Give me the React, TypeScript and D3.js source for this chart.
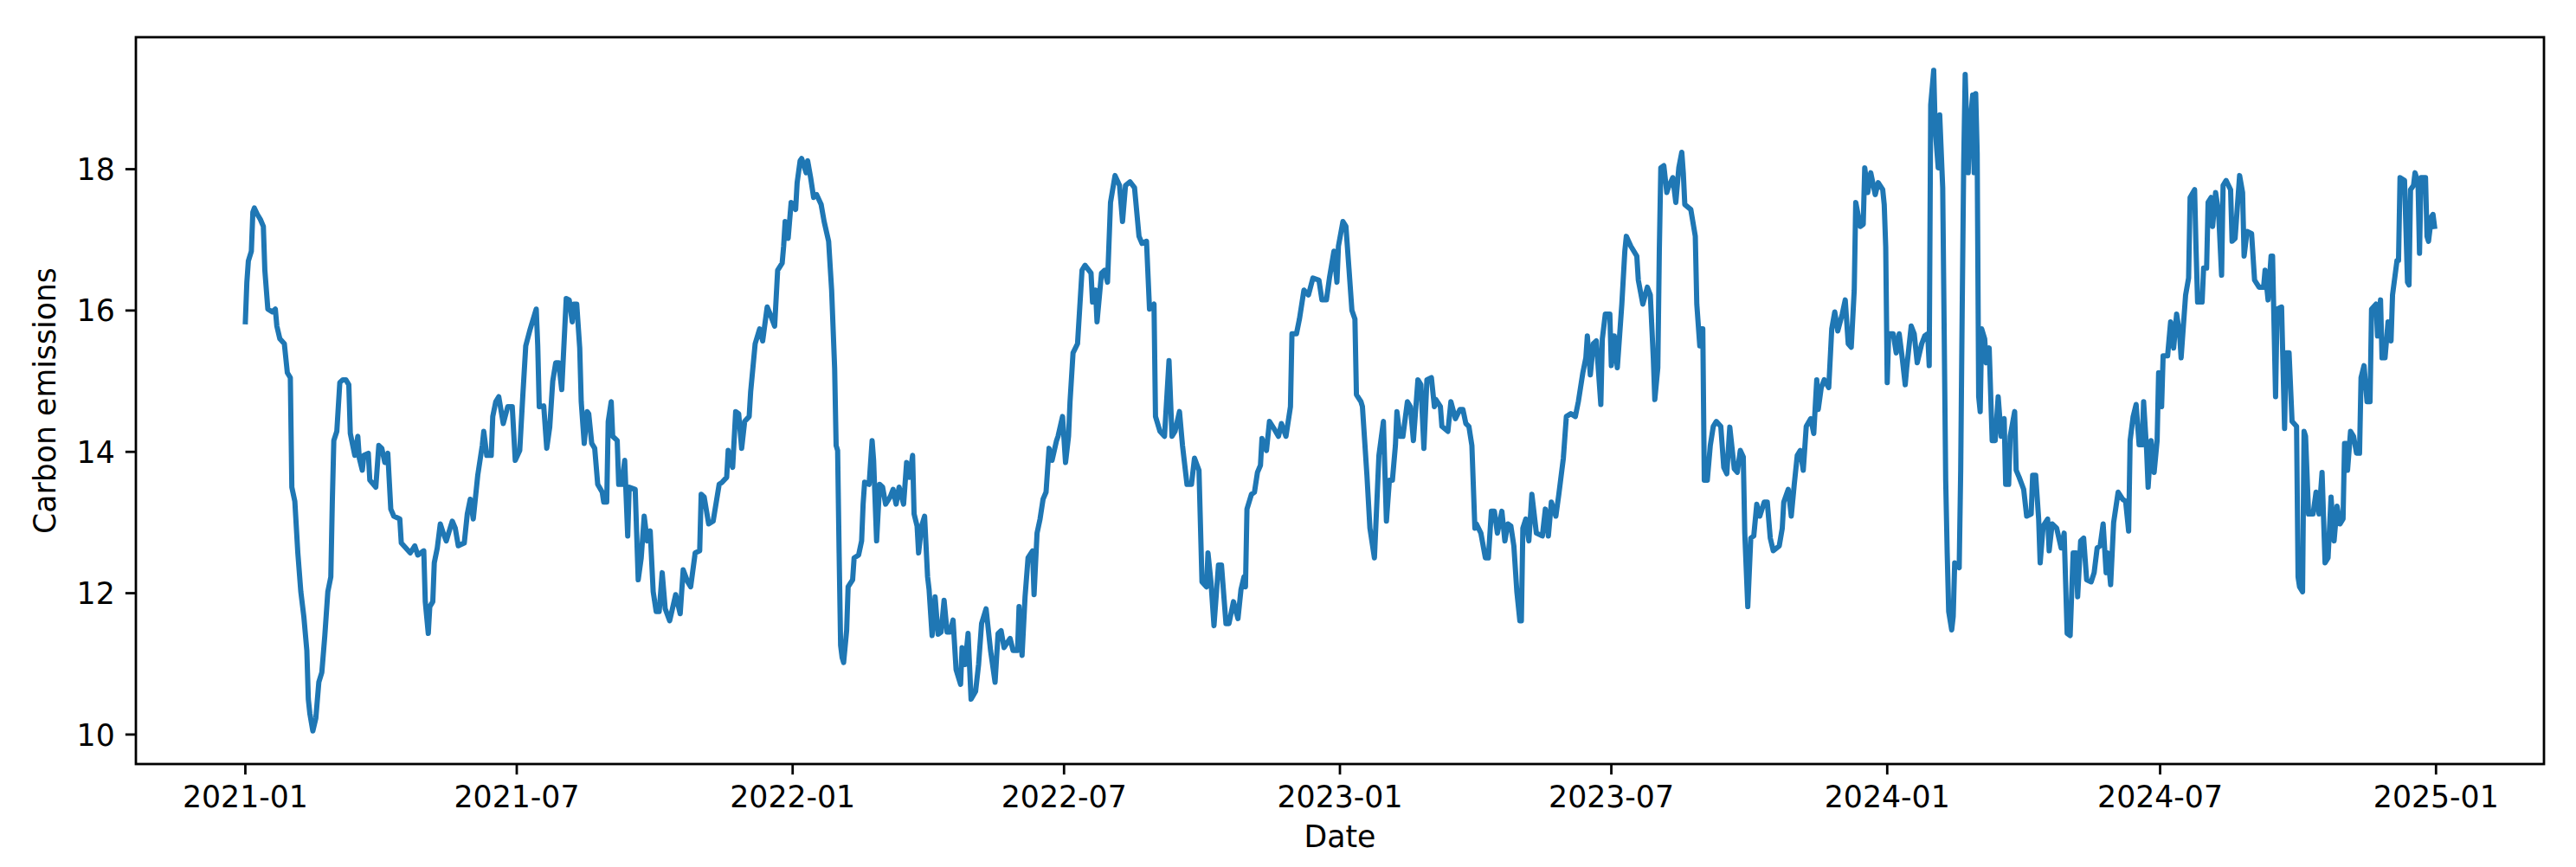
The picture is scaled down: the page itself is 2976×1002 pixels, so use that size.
import React from 'react';
import * as d3 from 'd3';

// day offsets from 2021-01-01, carbon emissions
const startDate = new Date(2021, 0, 1);

const emissions2021: [number, number][] = [
  [0, 15.84], [1, 16.4], [2, 16.7], [4, 16.84], [5, 17.39], [6, 17.45], [8, 17.36], [10, 17.29], [12, 17.19],
  [13, 16.57], [15, 16.02], [18, 15.98], [20, 16.02], [21, 15.78], [23, 15.6], [26, 15.53], [28, 15.12], [30, 15.05],
  [31, 13.5], [33, 13.3], [35, 12.57], [37, 12.02], [39, 11.67], [41, 11.19], [42, 10.5], [43, 10.3], [45, 10.05],
  [47, 10.23], [49, 10.74], [51, 10.88], [53, 11.4], [55, 12.02], [57, 12.23], [58, 13.3], [59, 14.16], [61, 14.29],
  [63, 14.98], [65, 15.02], [67, 15.02], [69, 14.95], [70, 14.26], [73, 13.95], [75, 14.22], [76, 13.91], [78, 13.74],
  [79, 13.95], [82, 13.98], [83, 13.6], [87, 13.5], [89, 14.09], [91, 14.05], [93, 13.85], [95, 13.98], [97, 13.19],
  [99, 13.09], [103, 13.05], [104, 12.71], [107, 12.64], [110, 12.57], [113, 12.67], [115, 12.54], [119, 12.6],
  [120, 11.88], [122, 11.43], [123, 11.81], [125, 11.88], [126, 12.43], [128, 12.64], [130, 12.98], [132, 12.85],
  [134, 12.74], [138, 13.02], [140, 12.92], [142, 12.67], [146, 12.71], [148, 13.12], [150, 13.33], [152, 13.05],
  [155, 13.67], [158, 14.09], [159, 14.29], [161, 13.95], [164, 13.95], [165, 14.5], [167, 14.71], [169, 14.78],
  [172, 14.4], [175, 14.64], [178, 14.64], [180, 13.88], [183, 14.02], [185, 14.78], [187, 15.5], [190, 15.74],
  [192, 15.88], [194, 16.02], [195, 15.5], [196, 14.64], [199, 14.65], [201, 14.05], [203, 14.35], [205, 15.0],
  [207, 15.26], [209, 15.26], [211, 14.88], [213, 15.74], [214, 16.17], [216, 16.15], [218, 15.84], [219, 16.09],
  [221, 16.09], [223, 15.47], [224, 14.71], [226, 14.12], [228, 14.57], [229, 14.54], [231, 14.12], [233, 14.05],
  [235, 13.54], [238, 13.43], [239, 13.29], [241, 13.29], [242, 14.43], [244, 14.71], [245, 14.22], [248, 14.16],
  [249, 13.54], [251, 13.54], [253, 13.88], [255, 12.81], [256, 13.5], [260, 13.47], [262, 12.19], [264, 12.5],
  [266, 13.09], [268, 12.74], [270, 12.88], [272, 12.02], [274, 11.74], [276, 11.74], [278, 12.29], [280, 11.78],
  [283, 11.61], [287, 11.98], [290, 11.71], [292, 12.33], [295, 12.16], [297, 12.09], [300, 12.57], [303, 12.6],
  [304, 13.4], [306, 13.36], [309, 12.98], [312, 13.02], [316, 13.54], [318, 13.57], [321, 13.64], [322, 14.02],
  [325, 13.78], [327, 14.57], [329, 14.54], [331, 14.05], [333, 14.43], [336, 14.5], [337, 14.85], [340, 15.53],
  [343, 15.74], [345, 15.57], [348, 16.05], [350, 15.95], [353, 15.78], [355, 16.57], [358, 16.67], [359, 16.91],
  [360, 17.26], [362, 17.02], [364, 17.53],
];

const emissions2022: [number, number][] = [
  [367, 17.43], [368, 17.81], [370, 18.12], [371, 18.15], [374, 17.95], [375, 18.12], [377, 17.88], [379, 17.6],
  [381, 17.64], [384, 17.5], [386, 17.26], [389, 16.98], [391, 16.29], [393, 15.19], [394, 14.09], [395, 14.02],
  [396, 12.57], [397, 11.26], [398, 11.09], [399, 11.02], [401, 11.47], [402, 12.09], [405, 12.19], [406, 12.5],
  [409, 12.54], [411, 12.74], [412, 13.26], [413, 13.57], [416, 13.54], [418, 14.16], [419, 13.88], [421, 12.74],
  [423, 13.54], [425, 13.5], [427, 13.26], [430, 13.36], [432, 13.47], [434, 13.26], [436, 13.5], [439, 13.26],
  [441, 13.85], [443, 13.64], [445, 13.95], [446, 13.12], [448, 12.95], [449, 12.57], [451, 12.95], [453, 13.09],
  [455, 12.23], [456, 12.05], [458, 11.4], [460, 11.95], [462, 11.42], [464, 11.45], [466, 11.9], [468, 11.45],
  [470, 11.45], [472, 11.62], [474, 10.92], [477, 10.71], [478, 11.23], [480, 10.99], [482, 11.43], [484, 10.5],
  [487, 10.61], [489, 10.99], [491, 11.57], [494, 11.78], [497, 11.19], [500, 10.74], [502, 11.43], [504, 11.47],
  [506, 11.23], [510, 11.36], [512, 11.19], [515, 11.19], [516, 11.81], [518, 11.12], [520, 11.95], [522, 12.5],
  [525, 12.6], [526, 11.98], [528, 12.85], [530, 13.05], [532, 13.33], [534, 13.43], [536, 14.05], [538, 13.88],
  [541, 14.16], [542, 14.22], [545, 14.5], [547, 13.85], [549, 14.22], [550, 14.71], [552, 15.4], [555, 15.53],
  [558, 16.57], [560, 16.64], [564, 16.53], [565, 16.12], [567, 16.29], [568, 15.84], [571, 16.53], [573, 16.57],
  [575, 16.4], [577, 17.53], [580, 17.91], [583, 17.77], [585, 17.26], [587, 17.77], [590, 17.82], [593, 17.74],
  [596, 17.05], [598, 16.95], [601, 16.98], [603, 16.02], [606, 16.09], [607, 14.5], [610, 14.29], [613, 14.22],
  [616, 15.29], [618, 14.22], [620, 14.29], [623, 14.57], [625, 14.09], [628, 13.54], [631, 13.54], [633, 13.91],
  [636, 13.74], [638, 12.16], [641, 12.09], [642, 12.57], [644, 12.16], [646, 11.54], [649, 12.4], [651, 12.4],
  [654, 11.57], [656, 11.57], [659, 11.88], [662, 11.64], [664, 12.05], [666, 12.23], [667, 12.09], [668, 13.19],
  [671, 13.4], [673, 13.43], [675, 13.71], [677, 13.81], [678, 14.19], [681, 14.02], [683, 14.43], [686, 14.33],
  [689, 14.22], [691, 14.4], [694, 14.22], [697, 14.64], [698, 15.67], [701, 15.67], [703, 15.88], [706, 16.29],
  [709, 16.22], [712, 16.46], [716, 16.43], [718, 16.15], [721, 16.15], [723, 16.46], [726, 16.84], [728, 16.4],
  [729, 16.91],
];

const emissions2023: [number, number][] = [
  [732, 17.26], [734, 17.19], [736, 16.6], [738, 16.0], [740, 15.88], [741, 14.81], [744, 14.71], [745, 14.64],
  [748, 13.67], [750, 12.92], [753, 12.5], [754, 12.98], [756, 13.95], [759, 14.43], [761, 13.02], [763, 13.6],
  [765, 13.6], [767, 14.09], [768, 14.57], [770, 14.22], [772, 14.22], [775, 14.71], [777, 14.64], [779, 14.16],
  [782, 15.02], [784, 14.95], [786, 14.05], [788, 15.02], [791, 15.05], [793, 14.64], [794, 14.74], [797, 14.64],
  [798, 14.36], [802, 14.29], [804, 14.71], [807, 14.47], [810, 14.6], [812, 14.6], [814, 14.4], [816, 14.36],
  [818, 14.09], [820, 12.92], [821, 12.98], [824, 12.85], [827, 12.5], [829, 12.5], [831, 13.16], [833, 13.16],
  [835, 12.85], [838, 13.16], [840, 12.74], [842, 12.98], [844, 12.95], [846, 12.67], [848, 12.02], [850, 11.61],
  [851, 11.61], [852, 12.92], [854, 13.05], [856, 12.74], [858, 13.4], [861, 12.85], [865, 12.81], [867, 13.19],
  [869, 12.81], [871, 13.29], [874, 13.09], [876, 13.4], [879, 13.91], [881, 14.5], [884, 14.54], [887, 14.5],
  [889, 14.71], [892, 15.12], [894, 15.33], [895, 15.64], [897, 15.09], [899, 15.53], [901, 15.57], [904, 14.67],
  [905, 15.6], [907, 15.95], [910, 15.95], [911, 15.22], [913, 15.64], [915, 15.19], [918, 16.09], [920, 16.84],
  [921, 17.05], [924, 16.91], [928, 16.77], [929, 16.43], [932, 16.09], [935, 16.33], [937, 16.22], [939, 15.33],
  [940, 14.74], [942, 15.19], [943, 16.84], [944, 18.02], [946, 18.05], [948, 17.67], [949, 17.74], [952, 17.88],
  [954, 17.53], [956, 18.02], [958, 18.24], [959, 17.95], [960, 17.5], [964, 17.43], [967, 17.05], [968, 16.09],
  [970, 15.5], [971, 15.74], [972, 15.74], [973, 13.6], [975, 13.6], [977, 14.09], [979, 14.36], [981, 14.43],
  [984, 14.36], [986, 13.78], [988, 13.69], [990, 14.35], [993, 13.76], [995, 13.71], [997, 14.02], [999, 13.93],
  [1000, 12.85], [1002, 11.81], [1004, 12.78], [1006, 12.81], [1008, 13.26], [1010, 13.09], [1013, 13.29],
  [1015, 13.29], [1017, 12.78], [1019, 12.6], [1023, 12.67], [1025, 12.92], [1026, 13.29], [1029, 13.47],
  [1031, 13.09], [1033, 13.54], [1035, 13.95], [1037, 14.02], [1039, 13.74], [1041, 14.36], [1044, 14.47],
  [1046, 14.26], [1048, 15.02], [1049, 14.6], [1051, 14.91], [1053, 15.02], [1056, 14.91], [1058, 15.74],
  [1060, 15.98], [1062, 15.71], [1065, 15.95], [1067, 16.15], [1069, 15.53], [1071, 15.48], [1073, 16.29],
  [1074, 17.53], [1077, 17.19], [1079, 17.22], [1080, 18.02], [1082, 17.67], [1084, 17.95], [1087, 17.64],
  [1089, 17.81], [1092, 17.71], [1093, 17.5], [1094, 16.9],
];

const emissions2024: [number, number][] = [
  [1095, 14.98], [1096, 15.67], [1099, 15.67], [1101, 15.4], [1103, 15.67], [1105, 15.33], [1107, 14.95],
  [1108, 15.19], [1111, 15.78], [1113, 15.67], [1115, 15.26], [1118, 15.53], [1120, 15.64], [1122, 15.67],
  [1123, 15.22], [1124, 18.91], [1126, 19.4], [1127, 18.57], [1129, 18.02], [1130, 18.77], [1132, 17.74],
  [1133, 15.67], [1134, 13.6], [1135, 12.57], [1136, 11.74], [1138, 11.48], [1139, 11.67], [1140, 12.43],
  [1143, 12.36], [1144, 13.74], [1145, 16.02], [1146, 18.08], [1147, 19.34], [1149, 17.95], [1150, 18.57],
  [1152, 19.05], [1153, 17.95], [1154, 19.07], [1155, 18.22], [1156, 14.78], [1157, 14.57], [1158, 15.74],
  [1160, 15.6], [1161, 15.26], [1163, 15.47], [1165, 14.16], [1167, 14.16], [1169, 14.78], [1171, 14.22],
  [1173, 14.47], [1174, 13.54], [1176, 13.54], [1177, 14.22], [1180, 14.57], [1181, 13.74], [1183, 13.64],
  [1186, 13.47], [1188, 13.09], [1191, 13.12], [1192, 13.67], [1194, 13.67], [1196, 13.05], [1197, 12.43],
  [1199, 12.95], [1202, 13.05], [1203, 12.6], [1205, 12.98], [1208, 12.92], [1211, 12.64], [1213, 12.85],
  [1215, 11.43], [1217, 11.4], [1219, 12.57], [1221, 12.57], [1222, 11.95], [1224, 12.74], [1226, 12.78],
  [1228, 12.19], [1231, 12.16], [1233, 12.29], [1235, 12.64], [1237, 12.67], [1239, 12.98], [1241, 12.29],
  [1242, 12.57], [1244, 12.12], [1246, 13.0], [1249, 13.43], [1252, 13.33], [1254, 13.3], [1256, 12.88],
  [1257, 14.16], [1259, 14.5], [1261, 14.67], [1263, 14.1], [1265, 14.1], [1266, 14.71], [1268, 14.02],
  [1269, 13.5], [1271, 14.16], [1273, 13.71], [1275, 14.16], [1276, 15.12], [1278, 14.64], [1279, 15.36],
  [1282, 15.36], [1284, 15.84], [1286, 15.47], [1288, 15.95], [1290, 15.67], [1291, 15.33], [1294, 16.22],
  [1296, 16.46], [1297, 17.6], [1300, 17.71], [1301, 16.84], [1302, 16.12], [1305, 16.12], [1306, 16.6],
  [1308, 16.6], [1309, 17.53], [1311, 17.6], [1312, 17.19], [1314, 17.67], [1316, 17.39], [1318, 16.5],
  [1319, 17.77], [1321, 17.84], [1324, 17.71], [1325, 16.98], [1327, 17.02], [1330, 17.91], [1332, 17.67],
  [1333, 16.77], [1335, 17.12], [1338, 17.09], [1340, 16.43], [1343, 16.33], [1346, 16.33], [1347, 16.57],
  [1349, 16.15], [1351, 16.77], [1352, 16.77], [1354, 14.78], [1355, 16.02], [1358, 16.05], [1360, 14.33],
  [1361, 15.4], [1363, 15.4], [1365, 14.43], [1368, 14.36], [1369, 12.23], [1370, 12.09], [1372, 12.02],
  [1373, 14.29], [1374, 14.22], [1376, 13.12], [1379, 13.12], [1381, 13.43], [1383, 13.12], [1385, 13.71],
  [1387, 12.43], [1389, 12.5], [1391, 13.36], [1393, 12.74], [1395, 13.23], [1397, 12.98], [1399, 13.05],
  [1400, 14.12], [1401, 14.12], [1402, 13.74], [1404, 14.29], [1406, 14.22], [1408, 13.98], [1410, 13.98],
  [1411, 15.05], [1413, 15.22], [1415, 14.71], [1417, 14.71], [1418, 16.02], [1421, 16.09], [1422, 15.64],
  [1424, 16.15], [1425, 15.33], [1427, 15.33], [1429, 15.84], [1431, 15.57], [1432, 16.22], [1435, 16.71],
  [1436, 16.71], [1437, 17.88], [1440, 17.84], [1441, 17.12], [1442, 16.4], [1443, 16.36], [1444, 17.71],
  [1446, 17.77], [1447, 17.95], [1449, 17.81], [1450, 16.81], [1451, 17.88], [1454, 17.88], [1455, 17.05],
  [1456, 16.98], [1458, 17.33], [1459, 17.36], [1460, 17.19],
];

const yTicks = [10, 12, 14, 16, 18];
const xTickLabels = ['2021-01', '2021-07', '2022-01', '2022-07', '2023-01', '2023-07', '2024-01', '2024-07', '2025-01'];

const width = 2976;
const height = 1002;
const margin = { top: 43, right: 37, bottom: 119, left: 157 };
const fontSize = 34.7;
const tickLen = 12.15;
const tickPad = 12.15;

function App() {
  const innerW = width - margin.left - margin.right;
  const innerH = height - margin.top - margin.bottom;

  const data = [...emissions2021, ...emissions2022, ...emissions2023, ...emissions2024].map(([d, v]) => ({
    date: d3.timeDay.offset(startDate, d),
    value: v,
  }));

  // matplotlib-like 5% margins
  const [x0, x1] = d3.extent(data, (d) => d.date.getTime()) as [number, number];
  const [y0, y1] = d3.extent(data, (d) => d.value) as [number, number];
  const xPad = (x1 - x0) * 0.05;
  const yPad = (y1 - y0) * 0.05;

  const xScale = d3.scaleTime()
    .domain([new Date(x0 - xPad), new Date(x1 + xPad)])
    .range([0, innerW]);
  const yScale = d3.scaleLinear()
    .domain([y0 - yPad, y1 + yPad])
    .range([innerH, 0]);

  const linePath = d3.line<{ date: Date; value: number }>()
    .x((d) => xScale(d.date))
    .y((d) => yScale(d.value))(data);

  const parseMonth = d3.timeParse('%Y-%m');

  return (
    <svg width={width} height={height} style={{ display: 'block', background: '#fff' }}
      fontFamily="'DejaVu Sans', sans-serif">
      <style>{'body{margin:0}'}</style>
      <g transform={`translate(${margin.left},${margin.top})`}>
        <path d={linePath ?? ''} fill="none" stroke="#1f77b4" strokeWidth={6}
          strokeLinejoin="round" strokeLinecap="square" />
        <rect x={0} y={0} width={innerW} height={innerH} fill="none" stroke="#000" strokeWidth={2.78} />

        {yTicks.map((t) => (
          <g key={t} transform={`translate(0,${yScale(t)})`}>
            <line x1={-tickLen} x2={0} stroke="#000" strokeWidth={2.78} />
            <text x={-tickLen - tickPad} dy={12.6} textAnchor="end" fontSize={fontSize} fill="#000">{t}</text>
          </g>
        ))}

        {xTickLabels.map((lab) => {
          const px = xScale(parseMonth(lab) as Date);
          return (
            <g key={lab} transform={`translate(${px},${innerH})`}>
              <line y1={0} y2={tickLen} stroke="#000" strokeWidth={2.78} />
              <text y={49.5} textAnchor="middle" fontSize={fontSize} fill="#000">{lab}</text>
            </g>
          );
        })}

        <text x={innerW / 2} y={979 - margin.top} textAnchor="middle" fontSize={fontSize} fill="#000">Date</text>
        <text transform={`translate(${64 - margin.left},${innerH / 2}) rotate(-90)`} textAnchor="middle"
          fontSize={fontSize} fill="#000">Carbon emissions</text>
      </g>
    </svg>
  );
}

export default App;
